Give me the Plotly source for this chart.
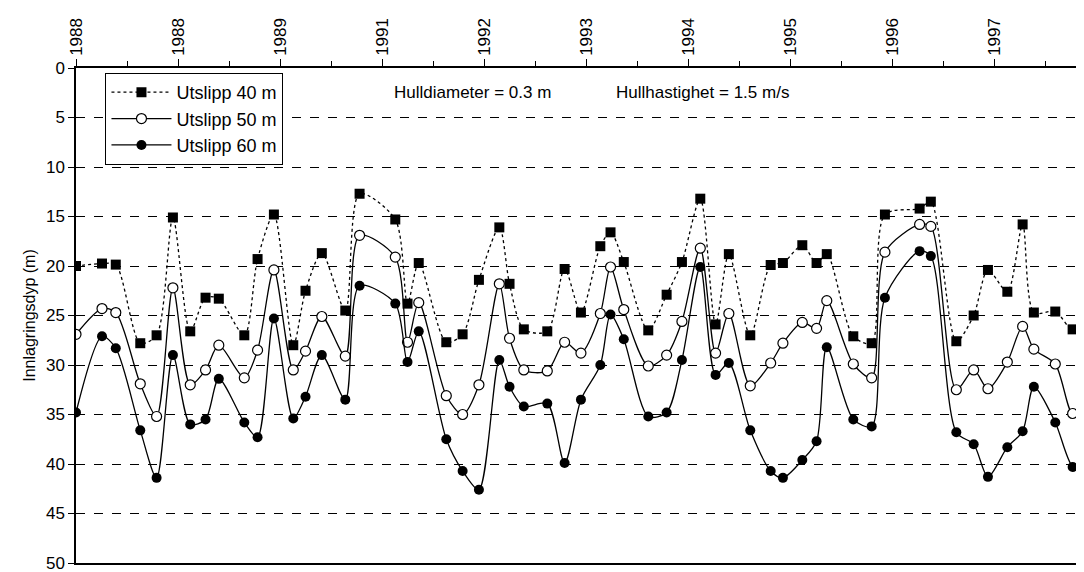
import plotly.graph_objects as go

tick_labels = ["1988", "1988", "1989", "1991", "1992", "1993", "1994", "1995", "1996", "1997"]

x40 = [0, .255, .39, .63, .79, .95, 1.12, 1.27, 1.40, 1.65, 1.78, 1.94, 2.13, 2.25, 2.41, 2.64, 2.78,
       3.13, 3.25, 3.36, 3.63, 3.79, 3.95, 4.15, 4.25, 4.39, 4.62, 4.79, 4.95, 5.14, 5.24, 5.37, 5.61,
       5.79, 5.94, 6.12, 6.27, 6.40, 6.61, 6.81, 6.93, 7.12, 7.26, 7.36, 7.62, 7.80, 7.93, 8.27, 8.38,
       8.63, 8.80, 8.94, 9.13, 9.28, 9.39, 9.60, 9.77, 9.97]
y40 = [20.0, 19.75, 19.86, 27.8, 27.0, 15.1, 26.6, 23.2, 23.3, 27.0, 19.3, 14.8, 28.0, 22.5, 18.7, 24.5, 12.7,
       15.3, 23.8, 19.7, 27.7, 26.9, 21.4, 16.1, 21.8, 26.4, 26.6, 20.3, 24.7, 18.0, 16.6, 19.6, 26.5,
       22.9, 19.6, 13.2, 25.9, 18.8, 27.0, 19.9, 19.7, 17.9, 19.7, 18.8, 27.1, 27.8, 14.8, 14.2, 13.5,
       27.6, 25.0, 20.4, 22.6, 15.8, 24.7, 24.6, 26.4, 20.0]

x50 = [0, .255, .39, .63, .79, .95, 1.12, 1.27, 1.40, 1.65, 1.78, 1.94, 2.13, 2.25, 2.41, 2.64, 2.78,
       3.13, 3.25, 3.36, 3.63, 3.79, 3.95, 4.15, 4.25, 4.39, 4.62, 4.79, 4.95, 5.14, 5.24, 5.37, 5.61,
       5.79, 5.94, 6.12, 6.27, 6.40, 6.61, 6.81, 6.93, 7.12, 7.26, 7.36, 7.62, 7.80, 7.93, 8.27, 8.38,
       8.63, 8.80, 8.94, 9.13, 9.28, 9.39, 9.60, 9.77, 9.97]
y50 = [26.9, 24.3, 24.7, 31.9, 35.2, 22.2, 32.0, 30.5, 28.0, 31.3, 28.5, 20.4, 30.5, 28.6, 25.1, 29.1, 16.9,
       19.1, 27.7, 23.7, 33.1, 35.0, 32.0, 21.8, 27.3, 30.5, 30.6, 27.7, 28.8, 24.8, 20.1, 24.4, 30.1,
       29.0, 25.6, 18.2, 28.8, 24.8, 32.1, 29.8, 27.8, 25.7, 26.3, 23.5, 29.9, 31.3, 18.6, 15.8, 16.0,
       32.5, 30.5, 32.4, 29.7, 26.1, 28.4, 29.9, 34.9, 30.5]

x60 = x50
y60 = [34.8, 27.1, 28.3, 36.6, 41.4, 29.0, 36.0, 35.5, 31.4, 35.8, 37.3, 25.3, 35.4, 33.2, 29.0, 33.5, 22.0,
       23.8, 29.7, 26.6, 37.5, 40.7, 42.6, 29.5, 32.2, 34.2, 33.9, 39.9, 33.5, 30.0, 24.9, 27.4, 35.2,
       34.8, 29.5, 20.1, 31.0, 29.8, 36.6, 40.7, 41.4, 39.6, 37.7, 28.2, 35.5, 36.2, 23.2, 18.5, 19.0,
       36.8, 38.0, 41.3, 38.3, 36.7, 32.2, 35.8, 40.3, 41.5]

font = "Liberation Sans, Arial, sans-serif"

fig = go.Figure()
fig.add_trace(go.Scatter(
    x=x40, y=y40, name="Utslipp 40 m", mode="lines+markers",
    line=dict(color="black", width=1.3, dash="dot", shape="spline", smoothing=0.8),
    marker=dict(symbol="square", size=10, color="black"),
))
fig.add_trace(go.Scatter(
    x=x50, y=y50, name="Utslipp 50 m", mode="lines+markers",
    line=dict(color="black", width=1.3, shape="spline", smoothing=0.8),
    marker=dict(symbol="circle", size=10, color="white", line=dict(color="black", width=1.2)),
))
fig.add_trace(go.Scatter(
    x=x60, y=y60, name="Utslipp 60 m", mode="lines+markers",
    line=dict(color="black", width=1.3, shape="spline", smoothing=0.8),
    marker=dict(symbol="circle", size=10, color="black"),
))

fig.add_annotation(x=0.311, y=0.95, xref="paper", yref="paper", text="Hulldiameter = 0.3 m",
                   showarrow=False, xanchor="left", yanchor="middle", font=dict(size=17, color="black"))
fig.add_annotation(x=0.53, y=0.95, xref="paper", yref="paper", text="Hullhastighet = 1.5 m/s",
                   showarrow=False, xanchor="left", yanchor="middle", font=dict(size=17, color="black"))

fig.update_layout(
    width=1084, height=572,
    margin=dict(l=68, r=0, t=60, b=17, autoexpand=False),
    plot_bgcolor="white", paper_bgcolor="white",
    font=dict(family=font, size=17, color="black"),
    legend=dict(x=0.029, y=0.99, xanchor="left", yanchor="top", bgcolor="white",
                bordercolor="black", borderwidth=1, font=dict(size=18), tracegroupgap=0,
                itemwidth=60),
    xaxis=dict(
        side="top", range=[0, 9.96], tickmode="array", automargin=False,
        tickvals=list(range(len(tick_labels))), ticktext=tick_labels,
        tickangle=-90, ticks="outside", ticklen=7, tickcolor="black",
        minor=dict(dtick=0.5, ticks="outside", ticklen=5, tickcolor="black"),
        showgrid=False, zeroline=False, showline=True, linecolor="black", linewidth=1.5, mirror=True,
    ),
    yaxis=dict(
        range=[50, 0], dtick=5, ticks="outside", ticklen=6, tickcolor="black", automargin=False,
        showgrid=True, gridcolor="black", griddash="dash", gridwidth=1,
        zeroline=False, showline=True, linecolor="black", linewidth=1.5,
        title=dict(text="Innlagringsdyp (m)", standoff=6, font=dict(size=16)),
    ),
)

fig.write_html("out.html")
